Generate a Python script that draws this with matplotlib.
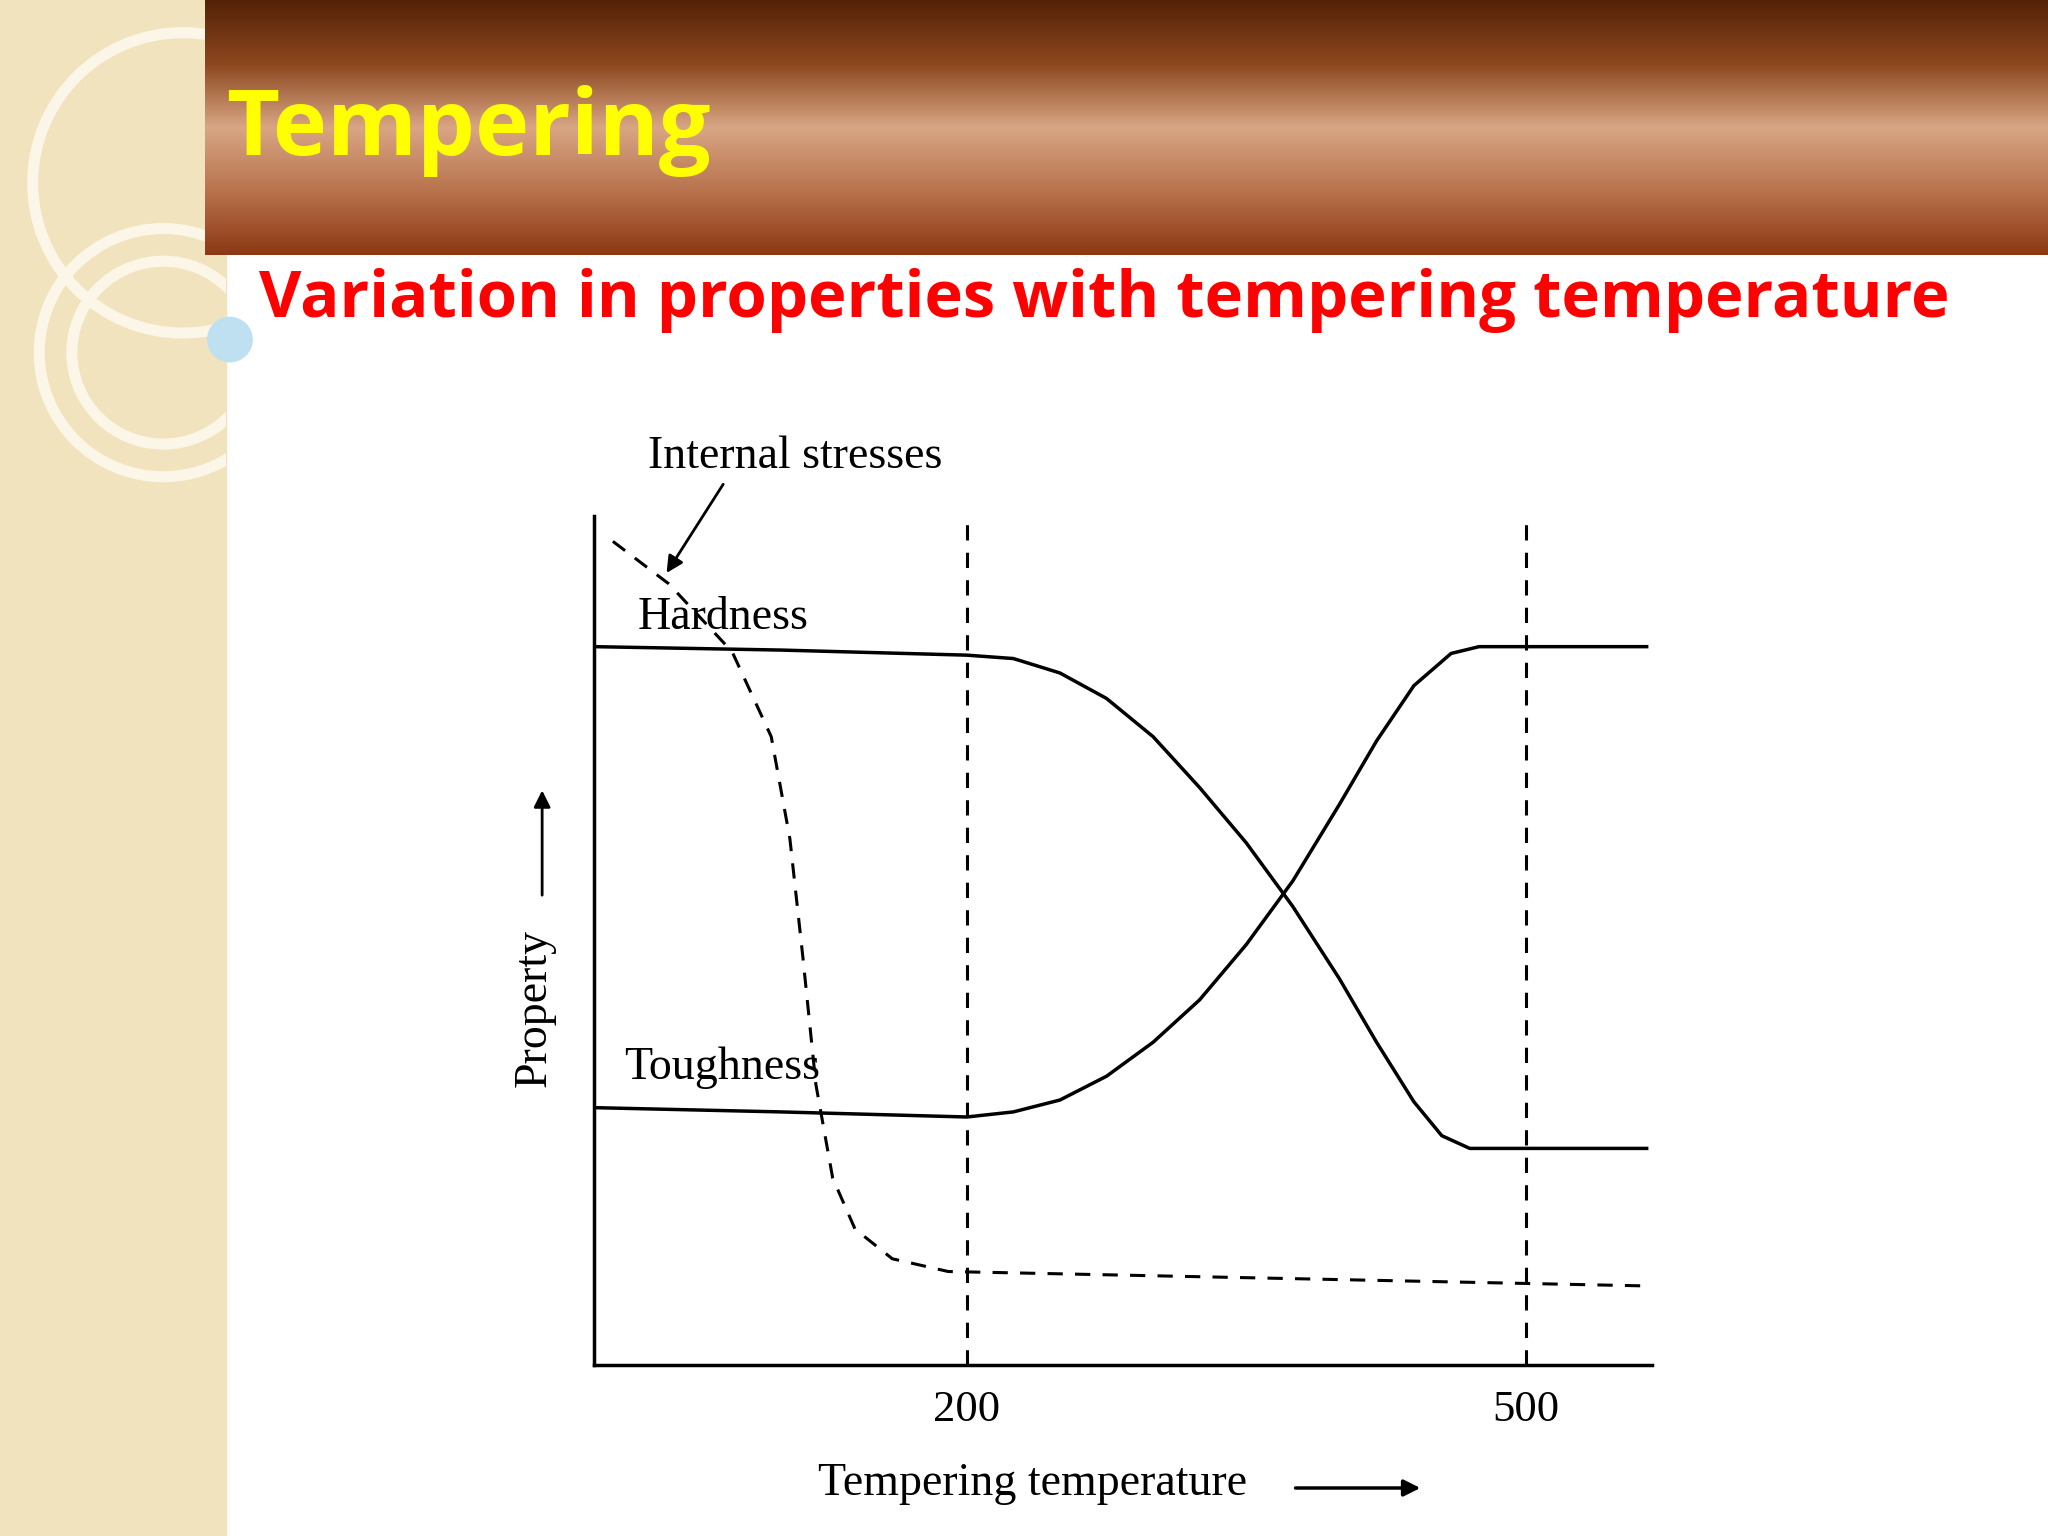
import matplotlib
matplotlib.use("Agg")
import matplotlib.pyplot as plt
import numpy as np
from matplotlib.patches import Rectangle, Circle

title = "Tempering"
subtitle = "Variation in properties with tempering temperature"
x_ticks = [200, 500]
x_tick_labels = ["200", "500"]
hard_t = [0, 100, 200, 225, 250, 275, 300, 325, 350, 375, 400, 420, 440, 455, 470, 565]
hard_v = [84.6, 84.2, 83.6, 83.2, 81.5, 78.5, 74, 68, 61.5, 54, 45.5, 38, 31, 27, 25.5, 25.5]
tough_t = [0, 100, 200, 225, 250, 275, 300, 325, 350, 375, 400, 420, 440, 460, 475, 565]
tough_v = [30.3, 29.8, 29.2, 29.8, 31.2, 34, 38, 43, 49.5, 57, 66, 73.5, 80, 83.8, 84.6, 84.6]
stress_t = [10, 40, 74, 95, 105, 112, 119, 128, 140, 160, 190, 300, 565]
stress_v = [97, 92, 84, 74, 62, 48, 33, 22, 16, 12.5, 11, 10.5, 9.3]

W, H = 1568, 1176
fig = plt.figure(figsize=(20.48, 15.36), dpi=100)
bg = fig.add_axes([0, 0, 1, 1]); bg.set_xlim(0, W); bg.set_ylim(H, 0); bg.axis("off")
strip = Rectangle((0, 0), 173, H, color="#f1e3bd", zorder=0)
bg.add_patch(strip)
for (cx, cy, r) in [(140, 140, 115), (125, 270, 95), (125, 270, 70)]:
    c = Circle((cx, cy), r, fill=False, ec="#fbf6e8", lw=8, zorder=1)
    bg.add_patch(c); c.set_clip_path(strip)
grad = np.array([[0.33, 0.13, 0.03], [0.55, 0.28, 0.12], [0.85, 0.65, 0.52],
                 [0.72, 0.45, 0.30], [0.55, 0.22, 0.08]])
ys = np.linspace(0, 1, 200)
img = np.stack([np.interp(ys, np.linspace(0, 1, 5), grad[:, i]) for i in range(3)], axis=1)
bg.imshow(img[:, None, :], extent=(157, W, 195, 0), aspect="auto", zorder=2)
bg.add_patch(Circle((176, 260), 17, color="#bfe0f0", zorder=3))
bg.text(173, 100, title, color="#ffff00", fontsize=66, fontweight="bold",
        family="Open Sans", va="center", zorder=4)
bg.text(198, 230, subtitle, color="#ff0000", fontsize=47, fontweight="bold",
        family="Open Sans", va="center", zorder=4)

ax = fig.add_axes([455 / W, 1 - 1045 / H, (1265 - 455) / W, 650 / H])
ax.set_xlim(0, 568); ax.set_ylim(0, 100)
ax.patch.set_alpha(0)
for s in ["top", "right"]:
    ax.spines[s].set_visible(False)
for s in ["left", "bottom"]:
    ax.spines[s].set_linewidth(2.5)
ax.set_xticks(x_ticks); ax.set_xticklabels(x_tick_labels, family="Liberation Serif", fontsize=32)
ax.tick_params(length=0, pad=18)
ax.set_yticks([])
ax.plot(hard_t, hard_v, color="black", lw=2.5)
ax.plot(tough_t, tough_v, color="black", lw=2.5)
ax.plot(stress_t, stress_v, color="black", lw=2.2, ls=(0, (5, 4)))
for xv in x_ticks:
    ax.plot([xv, xv], [0, 99], color="black", lw=2.2, ls=(0, (5, 4)))
sf = dict(family="Liberation Serif", fontsize=33)
ax.text(29, 107, "Internal stresses", va="center", clip_on=False, **sf)
ax.annotate("", xy=(38, 93), xytext=(70, 104),
            arrowprops=dict(arrowstyle="-|>", lw=2, color="black", mutation_scale=25), annotation_clip=False)
ax.text(23, 88, "Hardness", va="center", **sf)
ax.text(16, 35, "Toughness", va="center", **sf)
ax.text(-32, 42, "Property", rotation=90, ha="center", va="center", **sf)
ax.annotate("", xy=(-28, 68), xytext=(-28, 55),
            arrowprops=dict(arrowstyle="-|>", lw=2, color="black", mutation_scale=25), annotation_clip=False)
ax.text(120, -14, "Tempering temperature", va="center", **sf)
ax.annotate("", xy=(445, -14.5), xytext=(375, -14.5),
            arrowprops=dict(arrowstyle="-|>", lw=2.5, color="black", mutation_scale=25), annotation_clip=False)
fig.savefig("out.png", dpi=100)
